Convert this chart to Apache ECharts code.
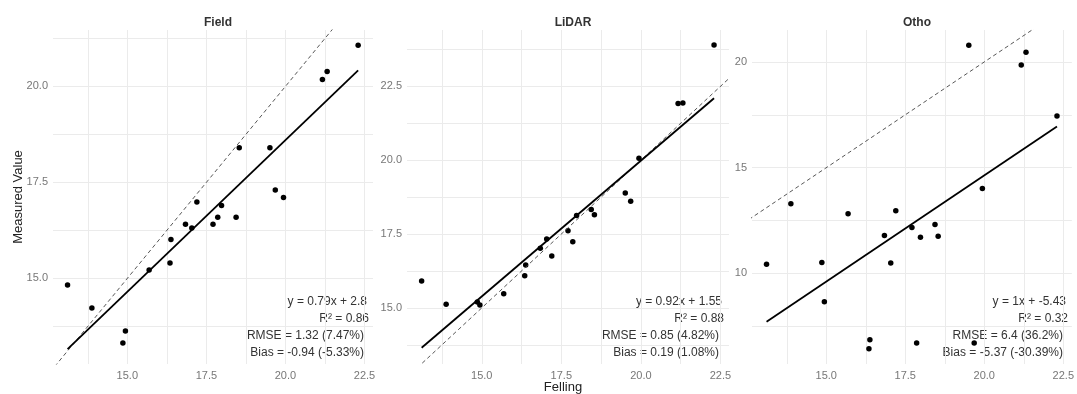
<!DOCTYPE html>
<html>
<head>
<meta charset="UTF-8">
<title>Felling vs measured</title>
<script src="https://cdn.jsdelivr.net/npm/echarts@6/dist/echarts.min.js"></script>
<style>
  html, body { margin: 0; padding: 0; background: #fff; }
  #main { width: 1077px; height: 394px; }
</style>
</head>
<body>
<div id="main"></div>
<script>
// felling value (x) shared by all three panels
var felling = [13.11, 13.88, 14.86, 14.94, 15.69, 16.35, 16.38, 16.84, 17.04, 17.20, 17.71,
               17.86, 17.98, 18.44, 18.54, 19.51, 19.68, 19.94, 21.17, 21.32, 22.30];
var fieldVals = [14.83, 14.23, 13.32, 13.63, 15.22, 15.40, 16.01, 16.41, 16.31, 16.99, 16.41,
                 16.59, 16.90, 16.59, 18.40, 18.40, 17.30, 17.11, 20.18, 20.39, 21.07];
var lidarVals = [15.91, 15.12, 15.20, 15.10, 15.48, 16.09, 16.45, 17.02, 17.33, 16.76, 17.61,
                 17.24, 18.13, 18.33, 18.15, 18.89, 18.61, 20.07, 21.92, 21.94, 23.90];
var othoVals = [10.44, 13.29, 10.52, 8.66, 12.82, 6.44, 6.87, 11.80, 10.49, 12.96, 12.17,
                6.71, 11.71, 12.31, 11.76, 20.79, 6.71, 14.02, 19.86, 20.46, 17.44];

// fitted line ends [x, y]
var fieldFit = [[13.11, 13.16], [22.30, 20.42]];
var lidarFit = [[13.11, 13.65], [22.30, 22.10]];
var othoFit = [[13.11, 7.72], [22.30, 16.95]];
// 1:1 line ends
var oneToOne = [12, 25];

var panelNames = ['Field', 'LiDAR', 'Otho'];
var xTickLabels = [15, 17.5, 20, 22.5];
var xGrid = [13.75, 15, 16.25, 17.5, 18.75, 20, 21.25, 22.5];
var yTickLabels = [[15, 17.5, 20], [15, 17.5, 20, 22.5], [10, 15, 20]];
var yGrid = [[13.75, 15, 16.25, 17.5, 18.75, 20, 21.25],
             [13.75, 15, 16.25, 17.5, 18.75, 20, 21.25, 22.5, 23.75],
             [7.5, 10, 12.5, 15, 17.5, 20]];
var yDecimals = [1, 1, 0];
var statLines = [
  ['y = 0.79x + 2.8', 'R\u00b2 = 0.86', 'RMSE = 1.32 (7.47%)', 'Bias = -0.94 (-5.33%)'],
  ['y = 0.92x + 1.55', 'R\u00b2 = 0.88', 'RMSE = 0.85 (4.82%)', 'Bias = 0.19 (1.08%)'],
  ['y = 1x + -5.43', 'R\u00b2 = 0.32', 'RMSE = 6.4 (36.2%)', 'Bias = -5.37 (-30.39%)']
];

var measured = [fieldVals, lidarVals, othoVals];
var fits = [fieldFit, lidarFit, othoFit];

var xRange = [12.65, 22.77];
var yRanges = [[12.77, 21.47], [13.10, 24.41], [5.72, 21.51]];
var grids = [
  {left: 53, right: 704, top: 30, bottom: 30},
  {left: 407, right: 348, top: 30, bottom: 30},
  {left: 752, right: 5, top: 30, bottom: 30}
];
var statRight = [364, 719, 1063];

var font = 'Liberation Sans, Arial, sans-serif';
var gridLine = {show: true, lineStyle: {color: '#ebebeb', width: 1}};

var chart = echarts.init(document.getElementById('main'));

var xAxes = [], yAxes = [], series = [], titles = [], graphics = [];
for (var i = 0; i < 3; i++) {
  xAxes.push({
    type: 'value', gridIndex: i, min: xRange[0], max: xRange[1],
    axisLine: {show: false},
    axisTick: {show: false, customValues: xGrid},
    axisLabel: {customValues: xTickLabels, color: '#777', fontSize: 11, fontFamily: font, margin: 6,
      formatter: function (v) { return v.toFixed(1); }},
    splitLine: gridLine
  });
  (function (d) {
    yAxes.push({
      type: 'value', gridIndex: i, min: yRanges[i][0], max: yRanges[i][1],
      axisLine: {show: false},
      axisTick: {show: false, customValues: yGrid[i]},
      axisLabel: {customValues: yTickLabels[i], color: '#777', fontSize: 11, fontFamily: font, margin: 5,
        formatter: function (v) { return v.toFixed(d); }},
      splitLine: gridLine
    });
  })(yDecimals[i]);

  var pts = felling.map(function (x, k) { return [x, measured[i][k]]; });
  series.push({
    type: 'line', xAxisIndex: i, yAxisIndex: i, data: [[oneToOne[0], oneToOne[0]], [oneToOne[1], oneToOne[1]]],
    showSymbol: false, silent: true, clip: true,
    lineStyle: {color: '#444', width: 0.9, type: [4, 3]}
  });
  series.push({
    type: 'line', xAxisIndex: i, yAxisIndex: i, data: fits[i],
    showSymbol: false, silent: true,
    lineStyle: {color: '#000', width: 1.8}
  });
  series.push({
    type: 'scatter', xAxisIndex: i, yAxisIndex: i, data: pts,
    symbolSize: 5.5, itemStyle: {color: '#000', opacity: 1}
  });

  var g = grids[i];
  titles.push({
    text: panelNames[i],
    left: (g.left + (1077 - g.right)) / 2, top: 12, textAlign: 'center',
    textStyle: {fontSize: 12, fontWeight: 'bold', color: '#333', fontFamily: font}
  });

  var offs = [3, 5, 0, 0];
  var ys = [302, 319, 336, 353];
  for (var j = 0; j < 4; j++) {
    graphics.push({
      type: 'text', x: statRight[i] + offs[j], y: ys[j],
      style: {text: statLines[i][j], align: 'right', verticalAlign: 'middle',
        fontSize: 12, fontFamily: font, fill: '#333'}
    });
  }
}

graphics.push({
  type: 'text', x: 18, y: 197, rotation: Math.PI / 2,
  style: {text: 'Measured Value', align: 'center', verticalAlign: 'middle',
    fontSize: 13, fontFamily: font, fill: '#222'}
});
graphics.push({
  type: 'text', x: 563, y: 387,
  style: {text: 'Felling', align: 'center', verticalAlign: 'middle',
    fontSize: 13, fontFamily: font, fill: '#222'}
});

chart.setOption({
  animation: false,
  title: titles,
  grid: grids,
  xAxis: xAxes,
  yAxis: yAxes,
  series: series,
  graphic: graphics
});
</script>
</body>
</html>
